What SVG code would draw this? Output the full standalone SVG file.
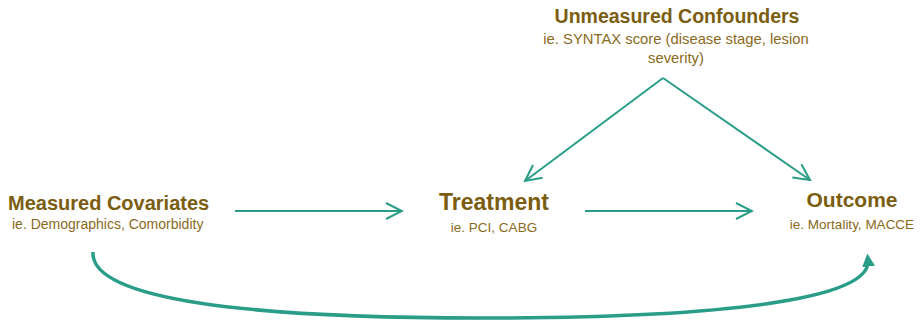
<svg xmlns="http://www.w3.org/2000/svg" width="922" height="322" viewBox="0 0 922 322">
<style>
.t{font-family:"Liberation Sans",Arial,sans-serif;fill:#7b5d10;font-weight:bold;}
.s{font-family:"Liberation Sans",Arial,sans-serif;fill:#8a6a1c;}
.c{fill:none;stroke:#2a9d88;stroke-width:2;}
</style>
<defs>
<marker id="open" viewBox="0 0 20 20" refX="18" refY="10" markerWidth="20" markerHeight="20" markerUnits="userSpaceOnUse" orient="auto">
<path d="M2 2 L18 10 L2 18" fill="none" stroke="#2a9d88" stroke-width="2"/>
</marker>
<marker id="solid" viewBox="0 0 10 10" refX="5" refY="5" markerWidth="13" markerHeight="13" markerUnits="userSpaceOnUse" orient="auto">
<path d="M0 0 L10 5 L0 10 Z" fill="#2a9d88"/>
</marker>
</defs>
<g id="measured">
<text class="t" x="8" y="210" font-size="20">Measured Covariates</text>
<text class="s" x="12" y="229" font-size="14">ie. Demographics, Comorbidity</text>
</g>
<g id="treatment">
<text class="t" x="494" y="210" font-size="23" text-anchor="middle">Treatment</text>
<text class="s" x="494" y="232" font-size="13.5" text-anchor="middle">ie. PCI, CABG</text>
</g>
<g id="outcome">
<text class="t" x="852" y="207" font-size="21" text-anchor="middle">Outcome</text>
<text class="s" x="852" y="229" font-size="13.5" text-anchor="middle">ie. Mortality, MACCE</text>
</g>
<g id="unmeasured">
<text class="t" x="677" y="23" font-size="19.5" text-anchor="middle">Unmeasured Confounders</text>
<text class="s" x="676" y="44" font-size="14.8" text-anchor="middle">ie. SYNTAX score (disease stage, lesion</text>
<text class="s" x="676" y="63" font-size="14.8" text-anchor="middle">severity)</text>
</g>
<g id="connectors">
<line class="c" x1="235" y1="211" x2="402" y2="211" marker-end="url(#open)"/>
<line class="c" x1="585" y1="211" x2="752" y2="211" marker-end="url(#open)"/>
<line class="c" x1="663" y1="78" x2="525" y2="181" marker-end="url(#open)"/>
<line class="c" x1="663" y1="78" x2="810" y2="180" marker-end="url(#open)"/>
<path class="c" style="stroke-width:3.5" d="M 93 252 C 90 300 250 318 480 318 C 720 318 872 300 868 260" marker-end="url(#solid)"/>
</g>
</svg>
